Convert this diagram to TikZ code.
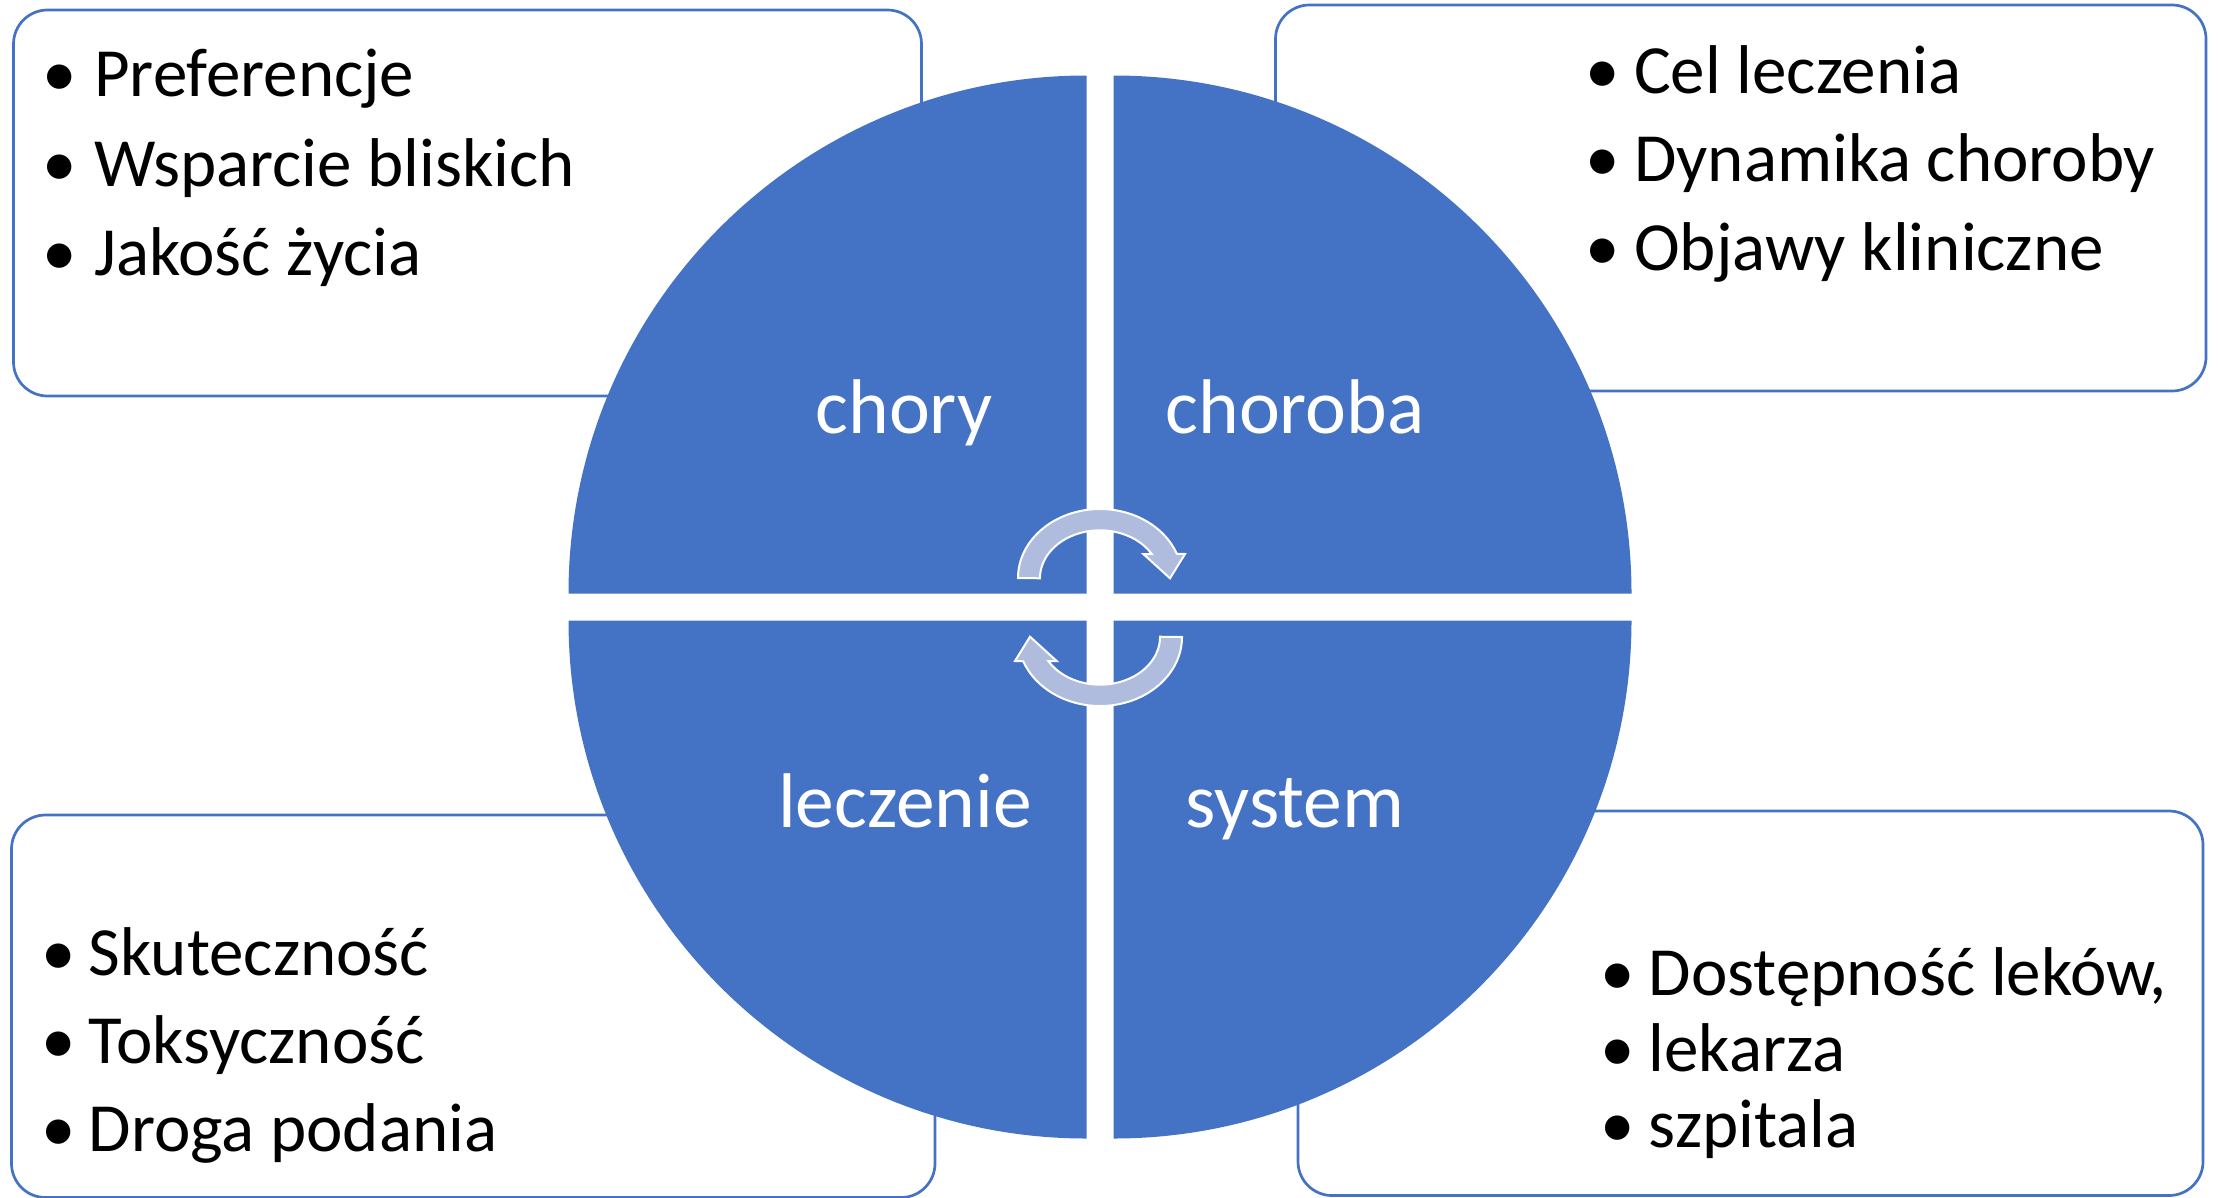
\documentclass[tikz,border=0pt]{standalone}
\usepackage{fontspec}
\setmainfont{Carlito}
\definecolor{quad}{RGB}{68,114,196}
\definecolor{arrowfill}{RGB}{176,188,222}
\begin{document}
\begin{tikzpicture}[x=1pt,y=-1pt,
  infobox/.style={draw=quad, line width=2.7pt, fill=white, rounded corners=34pt},
  quadrant/.style={fill=quad},
  qlabel/.style={text=white, font=\fontsize{77.5}{93}\selectfont, anchor=base, inner sep=0},
  item/.style={font=\fontsize{69}{83}\selectfont, anchor=base west, inner sep=0},
  bul/.style={font=\fontsize{69}{83}\selectfont, anchor=base, inner sep=0},
  cyc/.style={fill=arrowfill, draw=white, line width=2pt, line join=miter}]
\useasboundingbox (0,0) rectangle (2219,1197);
\fill[white] (0,0) rectangle (2219,1197);

% info boxes
\draw[infobox] (13.5,10) rectangle (921.5,396);
\draw[infobox] (1275.5,5) rectangle (2206,391);
\draw[infobox] (11.5,815) rectangle (935,1197.5);
\draw[infobox] (1298,811) rectangle (2203,1195.5);

% quadrants
\fill[quadrant] (1086.5,593.5) -- (568.5,593.5) arc[start angle=180,end angle=270,radius=518] -- cycle;
\fill[quadrant] (1113.5,593.5) -- (1113.5,75.5) arc[start angle=270,end angle=360,radius=518] -- cycle;
\fill[quadrant] (1113.5,620.5) -- (1631.5,620.5) arc[start angle=0,end angle=90,radius=518] -- cycle;
\fill[quadrant] (1086.5,620.5) -- (1086.5,1138.5) arc[start angle=90,end angle=180,radius=518] -- cycle;

% quadrant labels
\node[qlabel] (chory) at (904,433) {chory};
\node[qlabel] (choroba) at (1295,433) {choroba};
\node[qlabel] (leczenie) at (905,827) {leczenie};
\node[qlabel] (system) at (1295,827) {system};

% cycle arrows
\path[cyc] (1018,578) arc[start angle=180,end angle=339.4,x radius=82,y radius=69]
  -- (1185,554) -- (1170,578.3) -- (1143.3,554) -- (1151.7,554)
  arc[start angle=329.6,end angle=180,x radius=60,y radius=48] -- cycle;
\begin{scope}[rotate around={180:(1100,607.5)}]
\path[cyc] (1018,578) arc[start angle=180,end angle=339.4,x radius=82,y radius=69]
  -- (1185,554) -- (1170,578.3) -- (1143.3,554) -- (1151.7,554)
  arc[start angle=329.6,end angle=180,x radius=60,y radius=48] -- cycle;
\end{scope}

% top-left list
\node[bul] (b11) at (60,96.7) {•};
\node[item] (t11) at (94,96.7) {Preferencje};
\node[bul] (b12) at (60,186.7) {•};
\node[item] (t12) at (94,186.7) {Wsparcie bliskich};
\node[bul] (b13) at (60,275) {•};
\node[item] (t13) at (94,275) {Jakość życia};

% top-right list
\node[bul] (b21) at (1603,93.3) {•};
\node[item] (t21) at (1634,93.3) {Cel leczenia};
\node[bul] (b22) at (1603,181.7) {•};
\node[item] (t22) at (1634,181.7) {Dynamika choroby};
\node[bul] (b23) at (1603,270) {•};
\node[item] (t23) at (1634,270) {Objawy kliniczne};

% bottom-left list
\node[bul] (b31) at (59,975) {•};
\node[item] (t31) at (88.5,975) {Skuteczność};
\node[bul] (b32) at (59,1063.3) {•};
\node[item] (t32) at (88.5,1063.3) {Toksyczność};
\node[bul] (b33) at (59,1151.7) {•};
\node[item] (t33) at (88.5,1151.7) {Droga podania};

% bottom-right list
\node[bul] (b41) at (1618,995) {•};
\node[item] (t41) at (1648.5,995) {Dostępność leków,};
\node[bul] (b42) at (1618,1071.7) {•};
\node[item] (t42) at (1648.5,1071.7) {lekarza};
\node[bul] (b43) at (1618,1147.3) {•};
\node[item] (t43) at (1648.5,1147.3) {szpitala};
\end{tikzpicture}
\end{document}
